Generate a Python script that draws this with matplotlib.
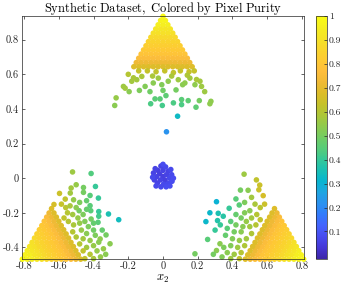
import numpy as np
import matplotlib.pyplot as plt
from matplotlib.colors import LinearSegmentedColormap

plt.rcParams['font.family'] = 'cmr10'
plt.rcParams['mathtext.fontset'] = 'cm'
plt.rcParams['axes.unicode_minus'] = False

# parula colormap (MATLAB R2014a), every 4th entry of the 64-colour table
parula_colors = [
    (0.2422, 0.1504, 0.6603), (0.2706, 0.2147, 0.8364), (0.2813, 0.3006, 0.9414),
    (0.2699, 0.3892, 0.9906), (0.1963, 0.4847, 0.9892), (0.1687, 0.5703, 0.9359),
    (0.1248, 0.6459, 0.8883), (0.0297, 0.7082, 0.8163), (0.0964, 0.7500, 0.7120),
    (0.2161, 0.7843, 0.5923), (0.3406, 0.8008, 0.4789), (0.4456, 0.8024, 0.3909),
    (0.5616, 0.7942, 0.3045), (0.6720, 0.7793, 0.2227), (0.7738, 0.7598, 0.1646),
    (0.8634, 0.7406, 0.1596), (0.9393, 0.7288, 0.2100), (0.9956, 0.7434, 0.2371),
    (0.9952, 0.7893, 0.2028), (0.9786, 0.8386, 0.1766), (0.9610, 0.8890, 0.1537),
    (0.9628, 0.9373, 0.1265), (0.9769, 0.9839, 0.0805),
]
parula = LinearSegmentedColormap.from_list('parula', parula_colors)

# ---- data ----
# top corner, dense rows: (y, purity, x positions)
top_rows = [
    (0.935, 1.00, [0.0]),
    (0.911, 0.97, [-0.014, 0.014]),
    (0.886, 0.95, [-0.028, 0.0, 0.028]),
    (0.862, 0.92, [-0.042, -0.014, 0.014, 0.042]),
    (0.838, 0.90, [-0.056, -0.028, 0.0, 0.028, 0.056]),
    (0.814, 0.87, [-0.07, -0.042, -0.014, 0.014, 0.042, 0.07]),
    (0.789, 0.85, [-0.084, -0.056, -0.028, 0.0, 0.028, 0.056, 0.084]),
    (0.765, 0.83, [-0.098, -0.07, -0.042, -0.014, 0.014, 0.042, 0.07, 0.098]),
    (0.741, 0.81, [-0.112, -0.084, -0.056, -0.028, 0.0, 0.028, 0.056, 0.084, 0.112]),
    (0.717, 0.79, [-0.126, -0.098, -0.07, -0.042, -0.014, 0.014, 0.042, 0.07, 0.098, 0.126]),
    (0.693, 0.76, [-0.14, -0.112, -0.084, -0.056, -0.028, 0.0, 0.028, 0.056, 0.084, 0.112, 0.14]),
    (0.668, 0.72, [-0.154, -0.126, -0.098, -0.07, -0.042, -0.014, 0.014, 0.042, 0.07, 0.098,
                   0.126, 0.154]),
    (0.644, 0.68, [-0.168, -0.14, -0.112, -0.084, -0.056, -0.028, 0.0, 0.028, 0.056, 0.084,
                   0.112, 0.14, 0.168]),
]

# bottom-left corner, dense rows: (y, x positions, purities)
left_rows = [
    (-0.468, [-0.81, -0.782, -0.754, -0.726, -0.698, -0.67, -0.642, -0.614, -0.586, -0.558, -0.53, -0.502, -0.474],
     [1.0, .97, .95, .92, .90, .87, .85, .83, .81, .79, .76, .72, .68]),
    (-0.443, [-0.796, -0.768, -0.74, -0.712, -0.684, -0.656, -0.628, -0.6, -0.572, -0.544, -0.516, -0.488],
     [.97, .95, .92, .90, .87, .85, .83, .81, .79, .76, .72, .68]),
    (-0.419, [-0.782, -0.754, -0.726, -0.698, -0.67, -0.642, -0.614, -0.586, -0.558, -0.53, -0.502],
     [.95, .92, .90, .87, .85, .83, .81, .79, .76, .72, .68]),
    (-0.395, [-0.768, -0.74, -0.712, -0.684, -0.656, -0.628, -0.6, -0.572, -0.544, -0.516],
     [.92, .90, .87, .85, .83, .81, .79, .76, .72, .68]),
    (-0.371, [-0.754, -0.726, -0.698, -0.67, -0.642, -0.614, -0.586, -0.558, -0.53],
     [.90, .87, .85, .83, .81, .79, .76, .72, .68]),
    (-0.346, [-0.74, -0.712, -0.684, -0.656, -0.628, -0.6, -0.572, -0.544],
     [.87, .85, .83, .81, .79, .76, .72, .68]),
    (-0.322, [-0.726, -0.698, -0.67, -0.642, -0.614, -0.586, -0.558],
     [.85, .83, .81, .79, .76, .72, .68]),
    (-0.298, [-0.712, -0.684, -0.656, -0.628, -0.6, -0.572], [.83, .81, .79, .76, .72, .68]),
    (-0.274, [-0.698, -0.67, -0.642, -0.614, -0.586], [.81, .79, .76, .72, .68]),
    (-0.249, [-0.684, -0.656, -0.628, -0.6], [.79, .76, .72, .68]),
    (-0.225, [-0.67, -0.642, -0.614], [.76, .72, .68]),
    (-0.201, [-0.656, -0.628], [.72, .68]),
    (-0.176, [-0.642], [.68]),
]

# bottom-right corner, dense rows: (y, x positions, purities)
right_rows = [
    (-0.468, [0.81, 0.782, 0.754, 0.726, 0.698, 0.67, 0.642, 0.614, 0.586, 0.558, 0.53, 0.502, 0.474],
     [1.0, .97, .95, .92, .90, .87, .85, .83, .81, .79, .76, .72, .68]),
    (-0.443, [0.796, 0.768, 0.74, 0.712, 0.684, 0.656, 0.628, 0.6, 0.572, 0.544, 0.516, 0.488],
     [.97, .95, .92, .90, .87, .85, .83, .81, .79, .76, .72, .68]),
    (-0.419, [0.782, 0.754, 0.726, 0.698, 0.67, 0.642, 0.614, 0.586, 0.558, 0.53, 0.502],
     [.95, .92, .90, .87, .85, .83, .81, .79, .76, .72, .68]),
    (-0.395, [0.768, 0.74, 0.712, 0.684, 0.656, 0.628, 0.6, 0.572, 0.544, 0.516],
     [.92, .90, .87, .85, .83, .81, .79, .76, .72, .68]),
    (-0.371, [0.754, 0.726, 0.698, 0.67, 0.642, 0.614, 0.586, 0.558, 0.53],
     [.90, .87, .85, .83, .81, .79, .76, .72, .68]),
    (-0.346, [0.74, 0.712, 0.684, 0.656, 0.628, 0.6, 0.572, 0.544],
     [.87, .85, .83, .81, .79, .76, .72, .68]),
    (-0.322, [0.726, 0.698, 0.67, 0.642, 0.614, 0.586, 0.558],
     [.85, .83, .81, .79, .76, .72, .68]),
    (-0.298, [0.712, 0.684, 0.656, 0.628, 0.6, 0.572], [.83, .81, .79, .76, .72, .68]),
    (-0.274, [0.698, 0.67, 0.642, 0.614, 0.586], [.81, .79, .76, .72, .68]),
    (-0.249, [0.684, 0.656, 0.628, 0.6], [.79, .76, .72, .68]),
    (-0.225, [0.67, 0.642, 0.614], [.76, .72, .68]),
    (-0.201, [0.656, 0.628], [.72, .68]),
    (-0.176, [0.642], [.68]),
]

# looser points around the corners and the scattered mixed pixels: (x, y, purity)
top_loose = [
    (-0.20, 0.60, .60), (-0.18, 0.56, .57), (-0.151, 0.569, .57), (-0.122, 0.588, .58),
    (-0.103, 0.53, .52), (-0.056, 0.55, .53), (-0.027, 0.578, .56), (-0.007, 0.54, .52),
    (0.03, 0.56, .54), (0.088, 0.569, .56), (0.113, 0.54, .53), (0.155, 0.578, .57),
    (0.184, 0.54, .54), (0.213, 0.56, .57), (-0.228, 0.53, .56), (0.193, 0.57, .58),
    (0.126, 0.55, .54), (0.075, 0.51, .50), (0.0, 0.507, .49), (-0.136, 0.507, .51),
    (-0.075, 0.50, .49), (-0.195, 0.50, .53), (-0.218, 0.52, .57), (0.222, 0.53, .56),
    (0.24, 0.50, .56), (-0.14, 0.62, .63), (-0.09, 0.62, .63), (-0.04, 0.615, .62),
    (0.01, 0.62, .63), (0.06, 0.61, .62), (0.10, 0.62, .63), (0.15, 0.615, .63),
    (0.18, 0.62, .63), (-0.17, 0.58, .58), (-0.06, 0.59, .58), (0.05, 0.59, .58),
    (0.14, 0.595, .59),
    (-0.27, 0.464, .55), (-0.278, 0.42, .53), (-0.046, 0.458, .45), (-0.017, 0.458, .45),
    (-0.071, 0.43, .43), (-0.004, 0.42, .42), (0.017, 0.477, .46), (0.06, 0.435, .43),
    (0.107, 0.454, .45), (0.107, 0.425, .43), (0.145, 0.448, .46), (0.19, 0.41, .46),
    (0.209, 0.448, .50), (0.276, 0.444, .54), (0.27, 0.43, .54), (0.084, 0.358, .33),
    (0.02, 0.268, .22),
]

left_loose = [
    (-0.628, -0.152, .66), (-0.596, -0.088, .64), (-0.563, -0.121, .62), (-0.529, -0.057, .57),
    (-0.534, -0.086, .57), (-0.50, -0.038, .55), (-0.521, 0.036, .56), (-0.515, -0.125, .55),
    (-0.458, -0.054, .50), (-0.458, -0.082, .50), (-0.414, 0.027, .44), (-0.389, -0.048, .40),
    (-0.372, -0.115, .40), (-0.42, -0.159, .45), (-0.483, -0.188, .50), (-0.416, -0.188, .45),
    (-0.37, -0.193, .40), (-0.314, -0.207, .36), (-0.255, -0.24, .34), (-0.374, -0.255, .45),
    (-0.414, -0.236, .50), (-0.328, -0.328, .50), (-0.362, -0.351, .54), (-0.305, -0.379, .53),
    (-0.343, -0.408, .55),
    (-0.585, -0.15, .63), (-0.56, -0.17, .61), (-0.535, -0.16, .58), (-0.55, -0.20, .60),
    (-0.52, -0.21, .57), (-0.50, -0.17, .53), (-0.49, -0.23, .55), (-0.46, -0.21, .51),
    (-0.57, -0.23, .62), (-0.545, -0.25, .60), (-0.515, -0.27, .58), (-0.48, -0.26, .55),
    (-0.45, -0.25, .52), (-0.43, -0.28, .51), (-0.47, -0.30, .55), (-0.44, -0.32, .53),
    (-0.40, -0.30, .49), (-0.52, -0.31, .60), (-0.50, -0.34, .59), (-0.46, -0.35, .57),
    (-0.42, -0.36, .55), (-0.39, -0.33, .51), (-0.48, -0.38, .60), (-0.44, -0.40, .57),
    (-0.40, -0.39, .55), (-0.46, -0.42, .62), (-0.42, -0.44, .60), (-0.38, -0.42, .55),
    (-0.45, -0.465, .63), (-0.40, -0.465, .58), (-0.36, -0.455, .55), (-0.33, -0.44, .53),
    (-0.37, -0.37, .53), (-0.35, -0.30, .47), (-0.40, -0.26, .47), (-0.37, -0.22, .42),
    (-0.44, -0.18, .47), (-0.48, -0.14, .51), (-0.44, -0.13, .47), (-0.42, -0.10, .45),
]

right_loose = [
    (0.467, 0.023, .56), (0.538, -0.01, .62), (0.557, -0.04, .64), (0.552, -0.067, .64),
    (0.446, -0.069, .50), (0.308, -0.136, .30), (0.439, -0.155, .45), (0.381, -0.174, .40),
    (0.318, -0.203, .36), (0.347, -0.22, .38), (0.247, -0.251, .32), (0.314, -0.245, .37),
    (0.257, -0.354, .45), (0.184, -0.437, .50), (0.577, -0.101, .66), (0.51, -0.111, .57),
    (0.50, -0.188, .53), (0.328, -0.379, .53), (0.308, -0.418, .53),
    (0.585, -0.15, .64), (0.56, -0.17, .61), (0.53, -0.15, .58), (0.54, -0.21, .60),
    (0.51, -0.23, .57), (0.47, -0.20, .52), (0.48, -0.25, .55), (0.45, -0.23, .50),
    (0.42, -0.21, .47), (0.56, -0.24, .62), (0.535, -0.27, .60), (0.50, -0.28, .57),
    (0.46, -0.28, .53), (0.42, -0.27, .50), (0.39, -0.25, .45), (0.45, -0.31, .53),
    (0.41, -0.31, .50), (0.37, -0.29, .45), (0.51, -0.32, .59), (0.48, -0.35, .57),
    (0.44, -0.36, .55), (0.40, -0.35, .52), (0.36, -0.33, .47), (0.47, -0.39, .59),
    (0.43, -0.40, .56), (0.39, -0.39, .52), (0.35, -0.40, .51), (0.45, -0.43, .60),
    (0.41, -0.44, .56), (0.37, -0.43, .53), (0.44, -0.465, .62), (0.39, -0.465, .56),
    (0.34, -0.455, .52), (0.29, -0.44, .50), (0.30, -0.30, .40), (0.33, -0.27, .40),
    (0.27, -0.20, .32), (0.42, -0.12, .45), (0.47, -0.14, .51), (0.49, -0.07, .53),
]

# highly mixed pixels near the centre of the simplex
center_pts = [
    (0.0, 0.01, .05), (0.02, 0.02, .06), (-0.02, 0.025, .05), (0.012, -0.012, .05),
    (-0.015, -0.01, .06), (0.038, 0.0, .07), (-0.038, 0.008, .06), (0.0, 0.045, .06),
    (0.003, -0.035, .07), (0.03, 0.04, .06), (-0.03, 0.045, .05), (0.032, -0.03, .07),
    (-0.032, -0.028, .06), (0.05, 0.02, .07), (-0.05, -0.01, .06), (0.015, 0.065, .07),
    (-0.012, 0.07, .06), (0.018, -0.05, .08), (-0.012, -0.05, .07), (0.052, -0.018, .08),
    (-0.055, 0.03, .06), (0.045, 0.05, .07), (-0.045, 0.055, .06), (0.0, 0.08, .08),
    (-0.04, -0.045, .07), (0.04, -0.045, .08), (0.06, 0.0, .08), (-0.06, 0.005, .07),
]

x_ticks = [-0.8, -0.6, -0.4, -0.2, 0, 0.2, 0.4, 0.6, 0.8]
x_tick_labels = ['-0.8', '-0.6', '-0.4', '-0.2', '0', '0.2', '0.4', '0.6', '0.8']
y_ticks = [-0.4, -0.2, 0, 0.2, 0.4, 0.6, 0.8]
y_tick_labels = ['-0.4', '-0.2', '0', '0.2', '0.4', '0.6', '0.8']
cbar_ticks = [0.1, 0.2, 0.3, 0.4, 0.5, 0.6, 0.7, 0.8, 0.9, 1.0]
cbar_tick_labels = ['0.1', '0.2', '0.3', '0.4', '0.5', '0.6', '0.7', '0.8', '0.9', '1']

# ---- collect points ----
xs, ys, ps = [], [], []
for y, p, row in top_rows:
    for x in row:
        xs.append(x); ys.append(y); ps.append(p)
for rows in (left_rows, right_rows):
    for y, row_x, row_p in rows:
        for x, p in zip(row_x, row_p):
            xs.append(x); ys.append(y); ps.append(p)
for group in (top_loose, left_loose, right_loose, center_pts):
    for x, y, p in group:
        xs.append(x); ys.append(y); ps.append(p)

W, H = 343, 291
fig = plt.figure(figsize=(W / 100, H / 100), dpi=100)
ax = fig.add_axes([22 / W, 32 / H, 282 / W, 243 / H])

sc = ax.scatter(xs, ys, c=ps, cmap=parula, vmin=-0.015, vmax=1.0, s=16,
                linewidths=0, clip_on=False, zorder=2)

ax.set_xlim(-0.812, 0.812)
ax.set_ylim(-0.467, 0.937)
ax.set_xticks(x_ticks)
ax.set_xticklabels(x_tick_labels)
ax.set_yticks(y_ticks)
ax.set_yticklabels(y_tick_labels)
axcol = (0.15, 0.15, 0.15)
ax.tick_params(direction='in', length=2.5, width=0.5, labelsize=7.5, colors=axcol,
               top=True, right=True, pad=2)
for sp in ax.spines.values():
    sp.set_linewidth(0.5)
    sp.set_color(axcol)

ax.set_title(r'$\mathrm{Synthetic\ Dataset,\ Colored\ by\ Pixel\ Purity}$', fontsize=9, pad=3)
ax.set_xlabel(r'$x_2$', fontsize=9, labelpad=1)

cax = fig.add_axes([316 / W, 32 / H, 11 / W, 243 / H])
cb = fig.colorbar(sc, cax=cax, ticks=cbar_ticks)
cb.ax.set_yticklabels(cbar_tick_labels)
cb.ax.tick_params(direction='in', length=2, width=0.5, labelsize=7, colors=axcol, pad=1.5)
cb.outline.set_linewidth(0.5)
cb.outline.set_edgecolor(axcol)

fig.savefig('out.png', dpi=100)
